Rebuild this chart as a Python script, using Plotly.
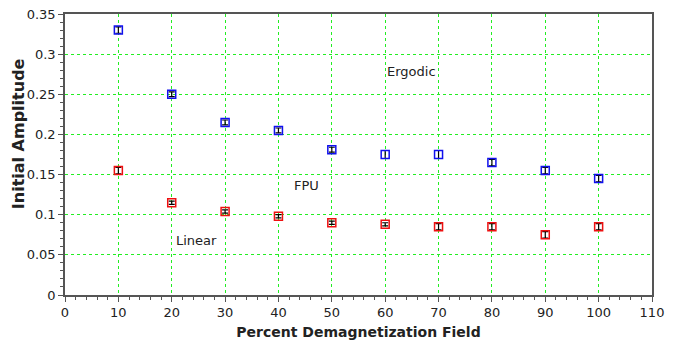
import plotly.graph_objects as go

# Percent demagnetization field settings
field = [10, 20, 30, 40, 50, 60, 70, 80, 90, 100]

# Ergodic boundary (upper series) with uncertainties
ergodic_amp = [0.330, 0.250, 0.215, 0.205, 0.181, 0.175, 0.175, 0.165, 0.155, 0.145]
ergodic_err = [0.004, 0.003, 0.003, 0.003, 0.003, 0.005, 0.005, 0.004, 0.004, 0.004]

# Linear/FPU boundary (lower series) with uncertainties
linear_amp = [0.155, 0.115, 0.104, 0.098, 0.090, 0.088, 0.085, 0.085, 0.075, 0.085]
linear_err = [0.004, 0.002, 0.002, 0.002, 0.002, 0.002, 0.004, 0.004, 0.004, 0.004]

# Region labels
region_text = ["Ergodic", "FPU", "Linear"]
region_x = [65.0, 45.2, 24.6]
region_y = [0.278, 0.137, 0.068]

FONT = "DejaVu Sans"
GRID = "#22ee22"
AXIS = "#555555"

fig = go.Figure()

fig.add_trace(go.Scatter(
    x=field, y=ergodic_amp, mode="markers",
    marker=dict(symbol="square-open", size=8, color="#1010ee", line=dict(width=1.5)),
    error_y=dict(type="data", array=ergodic_err, color="black", thickness=1.2, width=3),
    showlegend=False,
))
fig.add_trace(go.Scatter(
    x=field, y=linear_amp, mode="markers",
    marker=dict(symbol="square-open", size=8, color="#ee1010", line=dict(width=1.5)),
    error_y=dict(type="data", array=linear_err, color="black", thickness=1.2, width=3),
    showlegend=False,
))

for t, x, y in zip(region_text, region_x, region_y):
    fig.add_annotation(x=x, y=y, text=t, showarrow=False,
                       font=dict(family=FONT, size=13, color="#222222"))

# Vertical axis title, set a little above the middle of the axis
fig.add_annotation(
    xref="paper", yref="paper", x=-0.078, y=0.573,
    text="<b>Initial Amplitude</b>", textangle=-90, showarrow=False,
    xanchor="center", yanchor="middle",
    font=dict(family=FONT, size=16, color="#222222"),
)

fig.update_layout(
    width=680, height=343,
    margin=dict(l=65, r=28, t=14, b=48),
    paper_bgcolor="white", plot_bgcolor="white",
    font=dict(family=FONT, size=13, color="#222222"),
)

fig.update_xaxes(
    range=[0, 110], tick0=0, dtick=10, automargin=False,
    showline=True, linecolor=AXIS, linewidth=1.5, mirror=True,
    ticks="outside", ticklen=5, tickcolor=AXIS,
    minor=dict(dtick=2, ticks="outside", ticklen=3, tickcolor=AXIS, showgrid=False),
    showgrid=True, gridcolor=GRID, griddash="dot", gridwidth=1,
    zeroline=False,
    title=dict(text="<b>Percent Demagnetization Field</b>", font=dict(family=FONT, size=14), standoff=8),
    tickfont=dict(family=FONT, size=13),
)
fig.update_yaxes(
    range=[0, 0.35], tick0=0, dtick=0.05, automargin=False,
    showline=True, linecolor=AXIS, linewidth=1.5, mirror=True,
    ticks="outside", ticklen=5, tickcolor=AXIS,
    minor=dict(dtick=0.01, ticks="outside", ticklen=3, tickcolor=AXIS, showgrid=False),
    showgrid=True, gridcolor=GRID, griddash="dot", gridwidth=1,
    zeroline=False,
    tickformat="~g",
    tickfont=dict(family=FONT, size=13),
)

fig.write_html("out.html")
